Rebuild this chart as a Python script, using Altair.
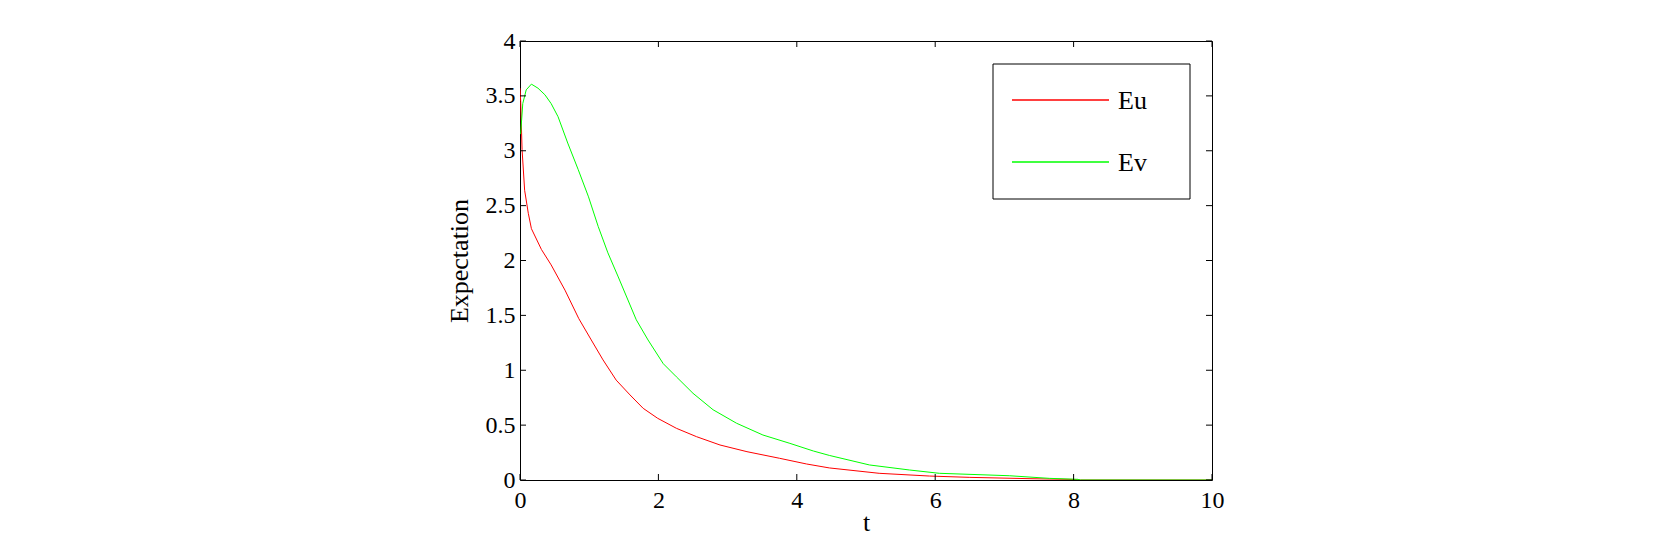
import altair as alt
import pandas as pd

# ---- data ----
series_names = ["Eu", "Ev"]
series_colors = ["#ff0000", "#00ff00"]

eu_t = [0.0, 0.01, 0.03, 0.067, 0.12, 0.165, 0.31, 0.45, 0.65, 0.85, 1.03, 1.20, 1.39,
        1.59, 1.78, 1.99, 2.26, 2.55, 2.89, 3.28, 3.75, 4.14, 4.47, 5.19, 5.92, 6.50,
        7.37, 8.0, 8.1, 10.0]
eu_v = [3.57, 3.45, 3.01, 2.64, 2.43, 2.29, 2.10, 1.96, 1.73, 1.47, 1.276, 1.094, 0.91,
        0.775, 0.653, 0.562, 0.471, 0.395, 0.319, 0.258, 0.198, 0.146, 0.11, 0.061, 0.036,
        0.024, 0.012, 0.005, 0.0, 0.0]

ev_t = [0.0, 0.01, 0.04, 0.09, 0.165, 0.26, 0.36, 0.45, 0.55, 0.69, 0.84, 0.99, 1.13,
        1.27, 1.42, 1.56, 1.68, 1.85, 2.07, 2.26, 2.50, 2.79, 3.13, 3.51, 3.90, 4.24,
        4.47, 5.05, 5.63, 6.06, 7.07, 7.65, 8.06, 8.1, 10.0]
ev_v = [3.15, 3.16, 3.43, 3.555, 3.607, 3.57, 3.51, 3.43, 3.31, 3.07, 2.83, 2.58, 2.31,
        2.07, 1.85, 1.64, 1.46, 1.276, 1.06, 0.94, 0.79, 0.64, 0.517, 0.41, 0.334, 0.264,
        0.224, 0.137, 0.091, 0.061, 0.039, 0.015, 0.006, 0.0, 0.0]

x_ticks = [0, 2, 4, 6, 8, 10]
y_ticks = [0, 0.5, 1, 1.5, 2, 2.5, 3, 3.5, 4]

# ---- layout ----
W, H = 692, 439
TICK = 6
FONT = "Liberation Serif"
LBL = 24
TTL = 26

df = pd.concat([
    pd.DataFrame({"t": eu_t, "value": eu_v, "series": series_names[0]}),
    pd.DataFrame({"t": ev_t, "value": ev_v, "series": series_names[1]}),
])
xt = pd.DataFrame({"t": x_ticks})
yt = pd.DataFrame({"value": y_ticks})

xscale = alt.Scale(domain=[0, 10], nice=False, zero=False)
yscale = alt.Scale(domain=[0, 4], nice=False, zero=False)
cscale = alt.Scale(domain=series_names, range=series_colors)

lines = alt.Chart(df).mark_line(strokeWidth=1, clip=True).encode(
    x=alt.X("t:Q", scale=xscale,
            axis=alt.Axis(values=x_ticks, title="t", format="~g", grid=False, ticks=False,
                          tickSize=0, domain=False, labelFont=FONT, labelFontSize=LBL,
                          labelColor="black", labelPadding=8, labelFlush=False,
                          titleFont=FONT, titleFontSize=TTL, titleFontWeight="normal",
                          titleColor="black", titleBaseline="bottom",
                          titleX=W / 2, titleY=55)),
    y=alt.Y("value:Q", scale=yscale,
            axis=alt.Axis(values=y_ticks, title="Expectation", format="~g", grid=False,
                          ticks=False, tickSize=0, domain=False, labelFont=FONT,
                          labelFontSize=LBL, labelColor="black", labelPadding=5,
                          labelFlush=False, titleFont=FONT, titleFontSize=TTL,
                          titleFontWeight="normal", titleColor="black",
                          titleAngle=270, titleBaseline="alphabetic",
                          titleX=-53, titleY=H / 2)),
    color=alt.Color("series:N", scale=cscale, legend=None),
)

tick_style = dict(color="black", strokeWidth=1)
x_bottom = alt.Chart(xt).mark_rule(**tick_style).encode(
    x=alt.X("t:Q", scale=xscale), y=alt.value(H), y2=alt.value(H - TICK))
x_top = alt.Chart(xt).mark_rule(**tick_style).encode(
    x=alt.X("t:Q", scale=xscale), y=alt.value(0), y2=alt.value(TICK))
y_left = alt.Chart(yt).mark_rule(**tick_style).encode(
    y=alt.Y("value:Q", scale=yscale), x=alt.value(0), x2=alt.value(TICK))
y_right = alt.Chart(yt).mark_rule(**tick_style).encode(
    y=alt.Y("value:Q", scale=yscale), x=alt.value(W), x2=alt.value(W - TICK))

# ---- legend box (drawn as a boxed key, like the reference) ----
LX0, LX1, LY0, LY1 = 473, 670, 23, 158
legend_box = alt.Chart(pd.DataFrame({"series": [series_names[0]]})).mark_rect(
    fill="white", stroke="black", strokeWidth=1
).encode(x=alt.value(LX0), x2=alt.value(LX1), y=alt.value(LY0), y2=alt.value(LY1))

legend_layers = [legend_box]
for i, name in enumerate(series_names):
    d = pd.DataFrame({"series": [name]})
    legend_layers.append(
        alt.Chart(d).mark_rule(strokeWidth=1.3).encode(
            color=alt.Color("series:N", scale=cscale, legend=None),
            x=alt.value(492), x2=alt.value(589),
            y=alt.value(59 + 62 * i)))
    legend_layers.append(
        alt.Chart(d).mark_text(align="left", baseline="middle", font=FONT,
                               fontSize=26, color="black").encode(
            text="series:N", x=alt.value(598), y=alt.value(60 + 62 * i)))

chart = alt.layer(lines, x_bottom, x_top, y_left, y_right, *legend_layers).properties(
    width=W, height=H,
    autosize=alt.AutoSizeParams(type="none"),
    padding={"left": 512, "top": 33, "right": 400, "bottom": 55},
    background="white",
).configure_view(stroke="black", strokeWidth=1)

chart.save("out.html", embed_options={"renderer": "svg", "actions": False})
